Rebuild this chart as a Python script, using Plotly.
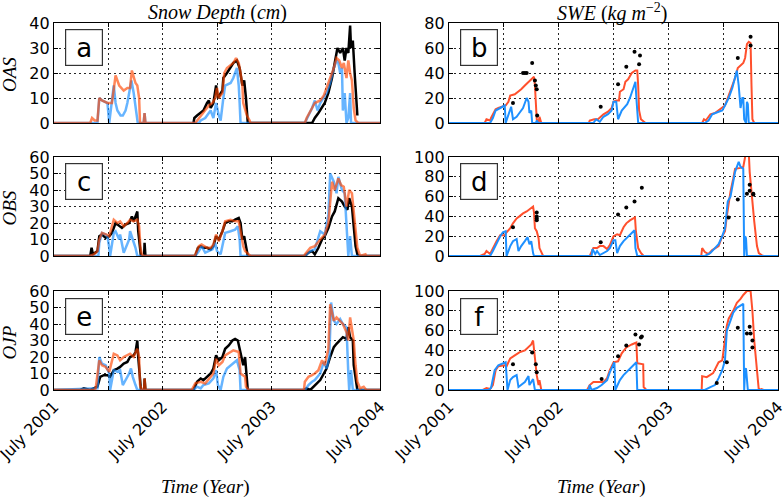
import plotly.graph_objects as go
from plotly.subplots import make_subplots

# x values: months after 1 July 2001
# ---------------- OAS snow depth (cm) ----------------
oas_depth_obs_m = [15.4, 15.5, 15.8, 16.2, 16.5, 16.9, 17.1, 17.3, 17.6, 17.9, 18.1, 18.6, 18.7, 19.1, 19.5, 19.8, 20.2, 20.5, 20.8, 21.0, 21.2, 21.4,
                   28.5, 28.8, 29.2, 29.6, 29.9, 30.3, 30.7, 31.0, 31.3, 31.6, 31.9, 32.1, 32.3, 32.5, 32.7, 32.8, 33.0, 33.2, 33.4, 33.5]
oas_depth_obs_v = [0, 2, 3, 4, 5, 8, 9, 6, 8, 15, 10, 13, 18, 20, 22, 24, 25, 22, 15, 17, 10, 0,
                   0, 2, 4, 6, 8, 12, 18, 24, 30, 28, 30, 25, 30, 28, 39, 30, 33, 20, 8, 3]
oas_depth_mod1_m = [0, 4.0, 4.2, 4.5, 4.8, 5.0, 5.3, 5.9, 6.4, 6.8, 7.2, 7.7, 8.1, 8.4, 8.6, 8.8, 9.0, 9.2, 9.4, 9.5,
                    9.9, 10.0, 10.1, 15.6, 15.8, 16.2, 16.7, 17.1, 17.5, 17.8, 18.0, 18.2, 18.6, 18.8, 19.1, 19.5, 19.8, 20.1, 20.4, 20.6,
                    20.8, 20.9, 21.3, 21.6, 21.7, 27.7, 27.9, 28.5, 28.8, 29.4, 29.8, 30.1, 30.5, 30.9, 31.2, 31.5, 31.8, 32.0, 32.3, 32.5,
                    32.7, 32.9, 33.1, 33.3, 33.6, 36]
oas_depth_mod1_v = [0, 0, 2, 1, 1, 10, 9, 8, 8, 19, 15, 13, 14, 14, 21, 18, 16, 15, 10, 0,
                    0, 4, 0, 0, 1, 3, 5, 7, 8, 10, 14, 10, 12, 20, 22, 23, 24, 26, 24, 20,
                    15, 8, 3, 1, 0, 0, 2, 6, 8, 9, 11, 14, 18, 22, 26, 25, 22, 24, 18, 25,
                    20, 17, 6, 1, 0, 0]
oas_depth_mod2_m = [0, 4.8, 5.0, 5.3, 5.9, 6.1, 6.6, 6.8, 7.0, 7.35, 7.6, 7.9, 8.1, 8.4, 8.55, 8.8, 9.1, 9.25, 9.9, 10.0,
                    10.1, 16.0, 16.2, 16.7, 17.1, 17.3, 17.6, 17.9, 18.2, 18.4, 18.7, 18.9, 19.5, 19.8, 20.2, 20.4, 20.5, 20.6, 27.7, 28.1,
                    28.5, 28.8, 29.1, 29.4, 29.8, 30.1, 30.5, 30.9, 31.2, 31.4, 31.6, 31.8, 31.9, 32.1, 32.3, 32.5, 32.7, 32.8, 36]
oas_depth_mod2_v = [0, 0, 10, 9, 8, 0, 15, 8, 5, 3, 3, 5, 8, 15, 17, 12, 5, 0, 0, 4,
                    0, 0, 1, 2, 4, 5, 2, 8, 3, 1, 10, 15, 16, 18, 22, 15, 8, 0, 0, 3,
                    6, 9, 5, 8, 10, 12, 16, 22, 25, 24, 20, 22, 5, 12, 0, 2, 12, 0, 0]

# ---------------- OAS SWE (kg m-2) ----------------
oas_swe_mod1_m = [0, 3.9, 4.1, 4.5, 4.6, 4.8, 5.1, 5.4, 5.9, 6.2, 6.5, 6.7, 7.2, 7.6, 7.9, 8.3, 8.7, 9.0, 9.3, 9.4,
                  9.5, 9.6, 9.8, 9.9, 10.1, 15.3, 15.4, 15.9, 16.3, 16.9, 17.4, 17.8, 18.0, 18.3, 18.6, 18.7, 19.1, 19.3, 19.6, 20.0,
                  20.4, 20.6, 20.7, 20.8, 21.0, 21.3, 21.5, 27.7, 27.9, 28.1, 28.6, 29.1, 29.5, 29.9, 30.2, 30.6, 31.0, 31.3, 31.6, 31.9,
                  32.2, 32.4, 32.6, 32.8, 33.0, 33.1, 33.2, 33.4, 36]
oas_swe_mod1_v = [0, 0, 3, 2, 4, 7, 11, 12, 13, 14, 17, 22, 23, 25, 27, 30, 33, 35, 37, 30,
                  10, 3, 0, 5, 0, 0, 2, 3, 3, 7, 9, 12, 17, 18, 18, 25, 27, 33, 35, 40,
                  42, 42, 30, 10, 3, 1, 0, 0, 3, 2, 7, 8, 10, 12, 14, 22, 30, 36, 44, 46,
                  48, 52, 63, 65, 64, 30, 3, 0, 0]
oas_swe_mod2_m = [0, 4.5, 4.8, 5.1, 5.6, 6.1, 6.2, 6.7, 6.8, 7.0, 7.4, 7.7, 8.1, 8.5, 8.7, 8.8, 9.0, 9.1, 9.5, 9.6,
                  9.8, 15.7, 15.8, 16.1, 16.5, 16.9, 17.4, 17.8, 18.0, 18.3, 18.5, 18.9, 19.5, 19.8, 20.2, 20.4, 20.5, 20.6, 20.7, 27.9,
                  28.0, 28.4, 28.8, 29.5, 29.9, 30.2, 30.6, 31.0, 31.3, 31.5, 31.7, 31.9, 32.1, 32.2, 32.3, 32.5, 32.6, 32.7, 32.8, 36]
oas_swe_mod2_v = [0, 0, 4, 10, 12, 14, 0, 12, 13, 3, 5, 8, 12, 20, 17, 8, 10, 0, 0, 2,
                  0, 0, 0, 3, 1, 5, 7, 10, 17, 17, 3, 10, 15, 20, 30, 33, 20, 5, 0, 0,
                  0, 2, 7, 9, 10, 14, 20, 28, 36, 42, 30, 12, 20, 20, 3, 0, 17, 15, 0, 0]
oas_swe_obs_m = [7.0, 8.1, 8.3, 8.5, 9.1, 9.4, 9.5, 9.6, 9.65, 16.6, 18.5, 19.4, 20.3, 20.9, 20.8, 31.6, 33.0, 33.0]
oas_swe_obs_v = [16, 40, 40, 40, 48, 34, 30, 27, 6, 13, 31, 45, 57, 54, 47, 52, 69, 62]

# ---------------- OBS snow depth ----------------
obs_depth_obs_m = [0, 4.0, 4.15, 4.3, 4.8, 5.0, 5.3, 5.7, 6.1, 6.4, 6.8, 7.2, 7.5, 7.9, 8.3, 8.6, 8.8, 9.2, 9.3, 9.5,
                   9.6, 9.95, 10.0, 10.1, 15.6, 15.9, 16.2, 16.5, 16.9, 17.3, 17.6, 17.9, 18.2, 18.6, 18.9, 19.3, 19.7, 20.0, 20.4, 20.6,
                   20.8, 21.0, 21.2, 21.4, 27.7, 28.1, 28.5, 28.8, 29.2, 29.6, 29.9, 30.3, 30.7, 31.0, 31.4, 31.8, 32.1, 32.4, 32.6, 32.9,
                   33.1, 33.3, 33.5, 33.7, 36]
obs_depth_obs_v = [0, 0, 5, 1, 3, 12, 13, 11, 12, 14, 20, 18, 17, 19, 20, 24, 21, 27, 15, 5,
                   0, 0, 8, 0, 0, 5, 6, 5, 5, 4, 6, 12, 10, 15, 20, 21, 21, 22, 23, 20,
                   10, 12, 5, 0, 0, 2, 3, 1, 5, 10, 12, 17, 24, 27, 35, 33, 30, 28, 35, 30,
                   18, 6, 1, 0, 0]
obs_depth_mod1_m = [0, 3.9, 4.4, 4.8, 5.0, 5.3, 5.8, 6.1, 6.6, 7.0, 7.3, 7.7, 8.1, 8.4, 8.8, 9.2, 9.4, 9.55, 9.7, 9.9,
                    15.5, 15.6, 16.0, 16.3, 16.9, 17.3, 17.6, 17.9, 18.2, 18.6, 18.9, 19.5, 20.0, 20.4, 20.6, 20.9, 21.1, 21.5, 21.7, 27.6,
                    27.7, 28.3, 28.8, 29.4, 29.9, 30.3, 30.5, 30.7, 31.0, 31.4, 31.7, 32.0, 32.3, 32.6, 32.9, 33.2, 33.5, 33.8, 34.4, 34.5,
                    36]
obs_depth_mod1_v = [0, 0, 1, 3, 10, 14, 13, 12, 22, 20, 21, 18, 20, 22, 21, 22, 18, 5, 1, 0,
                    0, 1, 6, 7, 5, 5, 7, 13, 9, 15, 21, 22, 21, 21, 15, 6, 3, 1, 0, 0,
                    1, 5, 6, 10, 13, 20, 35, 45, 40, 47, 43, 42, 30, 40, 38, 20, 5, 0, 1, 0,
                    0]
obs_depth_mod2_m = [0, 4.9, 5.0, 5.3, 5.7, 5.9, 6.1, 6.2, 6.6, 6.8, 7.2, 7.3, 7.7, 7.9, 8.3, 8.4, 8.7, 9.0, 9.2, 15.6,
                    16.0, 16.3, 16.7, 17.1, 17.5, 17.8, 18.0, 18.4, 18.7, 18.9, 19.5, 20.0, 20.3, 20.5, 20.6, 27.7, 28.3, 28.8, 29.4, 29.9,
                    30.3, 30.5, 30.9, 31.2, 31.4, 31.8, 32.1, 32.3, 32.5, 32.7, 32.9, 36]
obs_depth_mod2_v = [0, 0, 8, 14, 13, 12, 5, 0, 14, 15, 10, 13, 2, 5, 10, 15, 10, 5, 0, 0,
                    3, 6, 2, 3, 4, 8, 3, 1, 10, 14, 15, 16, 18, 10, 0, 0, 3, 4, 15, 13,
                    25, 50, 45, 38, 48, 40, 38, 15, 0, 12, 0, 0]

# ---------------- OBS SWE ----------------
obs_swe_mod1_m = [0, 3.4, 3.9, 4.1, 4.5, 4.8, 5.2, 5.6, 6.1, 6.3, 6.7, 7.0, 7.4, 7.7, 8.1, 8.5, 8.8, 9.2, 9.3, 9.4,
                  9.6, 9.8, 9.9, 10.1, 10.3, 15.4, 15.8, 16.2, 16.5, 16.9, 17.3, 17.6, 18.0, 18.4, 18.7, 19.1, 19.4, 19.8, 20.35, 20.45,
                  20.7, 21.0, 21.3, 27.6, 27.7, 28.0, 28.4, 28.8, 29.1, 29.5, 29.9, 30.2, 30.4, 30.6, 30.8, 31.1, 31.3, 31.9, 32.2, 32.4,
                  32.8, 32.9, 33.2, 33.4, 33.7, 33.9, 34.2, 34.4, 36]
obs_swe_mod1_v = [0, 0, 2, 5, 2, 8, 15, 21, 21, 24, 28, 33, 38, 40, 43, 45, 47, 50, 44, 28,
                  25, 18, 8, 3, 0, 0, 8, 8, 10, 10, 7, 11, 20, 22, 21, 29, 33, 36, 39, 25,
                  8, 3, 0, 0, 8, 4, 2, 6, 8, 10, 20, 25, 40, 55, 65, 78, 88, 89, 90, 100,
                  105, 85, 50, 35, 10, 3, 1, 0, 0]
obs_swe_mod2_m = [0, 4.5, 4.8, 5.2, 5.6, 5.9, 6.2, 6.3, 6.7, 7.0, 7.4, 7.6, 7.9, 8.3, 8.6, 8.8, 9.0, 9.2, 9.3, 15.5,
                  15.6, 15.7, 16.0, 16.2, 16.5, 17.3, 17.6, 18.0, 18.2, 18.4, 18.7, 19.1, 19.4, 19.9, 20.3, 20.4, 20.6, 28.0, 28.6, 29.1,
                  29.5, 29.9, 30.2, 30.5, 30.8, 31.1, 31.3, 31.7, 31.9, 32.2, 32.3, 32.4, 32.5, 32.6, 36]
obs_swe_mod2_v = [0, 0, 5, 13, 20, 24, 25, 0, 10, 15, 17, 5, 10, 15, 19, 12, 15, 3, 0, 0,
                  0, 7, 2, 5, 1, 5, 8, 16, 16, 3, 10, 15, 18, 22, 26, 8, 0, 0, 3, 8,
                  12, 20, 28, 55, 60, 75, 85, 95, 90, 88, 0, 20, 18, 0, 0]
obs_swe_obs_m = [7.0, 9.6, 9.6, 9.6, 9.6, 16.6, 18.5, 19.4, 20.3, 21.1, 30.6, 31.6, 32.6, 32.9, 32.9, 33.3, 33.3]
obs_swe_obs_v = [29, 44, 40, 38, 36, 14, 42, 49, 55, 69, 39, 57, 63, 72, 66, 63, 62]

# ---------------- OJP snow depth ----------------
ojp_depth_obs_m = [0, 2.9, 3.3, 4.0, 4.8, 5.1, 5.5, 5.9, 6.2, 6.6, 7.0, 7.3, 7.7, 8.1, 8.4, 8.8, 9.0, 9.2, 9.3, 9.5,
                   9.6, 9.95, 10.0, 10.1, 15.4, 15.8, 16.2, 16.5, 16.9, 17.3, 17.6, 17.9, 18.2, 18.6, 18.9, 19.3, 19.7, 20.0, 20.3, 20.5,
                   20.7, 20.9, 21.1, 21.3, 21.4, 27.6, 27.9, 28.3, 28.8, 29.4, 29.8, 30.1, 30.5, 30.9, 31.2, 31.6, 31.9, 32.3, 32.5, 32.7,
                   33.0, 33.1, 33.4, 33.5, 36]
ojp_depth_obs_v = [0, 0, 1, 0, 2, 8, 9, 9, 8, 12, 13, 14, 16, 17, 20, 21, 23, 30, 20, 3,
                   0, 0, 7, 0, 0, 5, 7, 6, 8, 10, 13, 21, 18, 20, 25, 27, 30, 31, 30, 25,
                   20, 15, 20, 3, 0, 0, 1, 0, 3, 6, 10, 13, 20, 26, 28, 30, 32, 31, 38, 32,
                   30, 15, 3, 0, 0]
ojp_depth_mod1_m = [0, 4.5, 4.6, 5.0, 5.3, 5.7, 6.1, 6.6, 7.0, 7.3, 7.7, 8.1, 8.4, 8.8, 9.2, 9.4, 9.5, 9.7, 9.95, 10.0,
                    10.1, 15.1, 15.2, 15.6, 16.2, 16.7, 17.1, 17.6, 17.9, 18.2, 18.6, 18.9, 19.5, 19.8, 20.4, 20.6, 21.1, 21.2, 21.5, 27.6,
                    27.7, 28.1, 28.5, 28.8, 29.2, 29.6, 29.9, 30.3, 30.5, 30.9, 31.2, 31.6, 31.9, 32.3, 32.5, 32.7, 32.9, 33.1, 33.3, 33.5,
                    33.8, 34.2, 34.5, 36]
ojp_depth_mod1_v = [0, 0, 1, 18, 15, 14, 11, 22, 21, 18, 20, 21, 22, 20, 25, 20, 3, 0, 0, 7,
                    0, 0, 0, 4, 5, 4, 7, 10, 19, 15, 17, 21, 23, 24, 23, 10, 8, 2, 0, 0,
                    5, 8, 9, 10, 12, 18, 15, 25, 52, 42, 44, 42, 40, 35, 30, 44, 38, 30, 15, 5,
                    1, 2, 0, 0]
ojp_depth_mod2_m = [0, 4.8, 5.0, 5.3, 5.7, 6.1, 6.2, 6.6, 7.0, 7.3, 7.6, 7.9, 8.3, 8.5, 8.7, 9.0, 9.2, 15.4, 15.8, 16.2,
                    16.5, 17.1, 17.6, 17.9, 18.1, 18.4, 18.7, 19.1, 19.7, 20.2, 20.5, 20.6, 27.7, 28.1, 28.5, 28.8, 29.4, 29.8, 30.1, 30.4,
                    30.6, 30.9, 31.2, 31.6, 31.9, 32.3, 32.5, 32.6, 32.8, 33.0, 36]
ojp_depth_mod2_v = [0, 1, 20, 16, 15, 10, 0, 12, 11, 12, 3, 6, 10, 13, 8, 3, 0, 0, 2, 1,
                    3, 4, 7, 12, 3, 0, 8, 13, 16, 18, 12, 0, 0, 3, 5, 6, 10, 17, 13, 20,
                    53, 42, 40, 43, 40, 38, 10, 0, 12, 0, 0]

# ---------------- OJP SWE ----------------
ojp_swe_mod1_m = [0, 3.7, 4.1, 4.5, 4.8, 5.1, 5.4, 6.1, 6.3, 6.5, 6.7, 7.2, 7.7, 8.3, 8.7, 9.0, 9.2, 9.4, 9.6, 9.8,
                  9.9, 10.1, 15.1, 15.4, 15.8, 16.3, 16.9, 17.3, 17.6, 18.0, 18.5, 18.9, 19.4, 20.0, 20.5, 20.6, 21.25, 21.3, 21.6, 27.65,
                  27.7, 28.2, 28.6, 28.9, 29.5, 29.9, 30.4, 30.6, 31.1, 31.5, 31.9, 32.2, 32.6, 33.0, 33.2, 33.4, 33.8, 33.9, 34.2, 34.4,
                  36]
ojp_swe_mod1_v = [0, 0, 2, 1, 5, 20, 24, 25, 24, 28, 32, 35, 38, 40, 43, 46, 50, 30, 15, 5,
                  10, 0, 0, 5, 8, 8, 8, 12, 20, 28, 29, 37, 43, 46, 48, 27, 26, 3, 0, 0,
                  14, 13, 15, 17, 28, 30, 65, 72, 80, 88, 92, 96, 100, 100, 80, 50, 10, 0, 1, 0,
                  0]
ojp_swe_mod2_m = [0, 4.3, 4.6, 5.0, 5.4, 5.9, 6.2, 6.4, 6.7, 7.0, 7.4, 7.6, 7.9, 8.3, 8.7, 8.8, 9.2, 9.4, 15.3, 15.4,
                  15.6, 16.2, 16.7, 17.3, 17.6, 18.1, 18.2, 18.7, 19.1, 19.6, 20.2, 20.5, 20.6, 28.0, 28.6, 29.1, 29.5, 29.9, 30.2, 30.4,
                  30.8, 31.1, 31.5, 31.9, 32.2, 32.3, 32.4, 32.5, 32.7, 36]
ojp_swe_mod2_v = [0, 0, 2, 20, 25, 27, 28, 0, 10, 13, 15, 3, 5, 8, 14, 5, 11, 0, 0, 5,
                  0, 2, 5, 10, 18, 28, 0, 10, 15, 20, 25, 28, 0, 0, 3, 5, 12, 20, 30, 60,
                  70, 78, 83, 85, 87, 0, 20, 22, 0, 0]
ojp_swe_obs_m = [7.0, 9.1, 9.5, 9.6, 16.7, 18.5, 19.4, 20.4, 20.8, 21.0, 21.1, 29.3, 30.4, 31.6, 32.6, 32.9, 33.0, 33.2, 33.2]
ojp_swe_obs_v = [26, 38, 26, 18, 11, 34, 45, 56, 46, 53, 54, 7, 28, 63, 57, 64, 57, 50, 43]

# ---------------- axes / labels ----------------
time_tick_months = [0, 6, 12, 18, 24, 30, 36]
time_tick_labels = ["July 2001", "", "July 2002", "", "July 2003", "", "July 2004"]
site_names = ["OAS", "OBS", "OJP"]
panel_letters = ["a", "b", "c", "d", "e", "f"]
depth_ranges = [40, 60, 60]
swe_ranges = [80, 100, 100]
depth_dticks = [10, 10, 10]
swe_dticks = [20, 20, 20]

for xs, ys in [(oas_depth_obs_m, oas_depth_obs_v), (oas_depth_mod1_m, oas_depth_mod1_v), (oas_depth_mod2_m, oas_depth_mod2_v),
               (oas_swe_mod1_m, oas_swe_mod1_v), (oas_swe_mod2_m, oas_swe_mod2_v), (oas_swe_obs_m, oas_swe_obs_v),
               (obs_depth_obs_m, obs_depth_obs_v), (obs_depth_mod1_m, obs_depth_mod1_v), (obs_depth_mod2_m, obs_depth_mod2_v),
               (obs_swe_mod1_m, obs_swe_mod1_v), (obs_swe_mod2_m, obs_swe_mod2_v), (obs_swe_obs_m, obs_swe_obs_v),
               (ojp_depth_obs_m, ojp_depth_obs_v), (ojp_depth_mod1_m, ojp_depth_mod1_v), (ojp_depth_mod2_m, ojp_depth_mod2_v),
               (ojp_swe_mod1_m, ojp_swe_mod1_v), (ojp_swe_mod2_m, ojp_swe_mod2_v), (ojp_swe_obs_m, ojp_swe_obs_v)]:
    assert len(xs) == len(ys), (len(xs), len(ys))

depth_sets = [
    (oas_depth_obs_m, oas_depth_obs_v, oas_depth_mod2_m, oas_depth_mod2_v, oas_depth_mod1_m, oas_depth_mod1_v),
    (obs_depth_obs_m, obs_depth_obs_v, obs_depth_mod2_m, obs_depth_mod2_v, obs_depth_mod1_m, obs_depth_mod1_v),
    (ojp_depth_obs_m, ojp_depth_obs_v, ojp_depth_mod2_m, ojp_depth_mod2_v, ojp_depth_mod1_m, ojp_depth_mod1_v),
]
swe_sets = [
    (oas_swe_mod1_m, oas_swe_mod1_v, oas_swe_mod2_m, oas_swe_mod2_v, oas_swe_obs_m, oas_swe_obs_v),
    (obs_swe_mod1_m, obs_swe_mod1_v, obs_swe_mod2_m, obs_swe_mod2_v, obs_swe_obs_m, obs_swe_obs_v),
    (ojp_swe_mod1_m, ojp_swe_mod1_v, ojp_swe_mod2_m, ojp_swe_mod2_v, ojp_swe_obs_m, ojp_swe_obs_v),
]

W, H = 783, 497
fig = make_subplots(rows=3, cols=2)

BLACK = "black"
BLUE_L = "rgba(30,144,255,0.68)"
ORANGE_L = "rgba(255,69,0,0.65)"
BLUE_R = "rgb(30,144,255)"
ORANGE_R = "rgb(255,80,45)"

for r in range(3):
    ob_m, ob_v, m2_m, m2_v, m1_m, m1_v = depth_sets[r]
    fig.add_trace(go.Scatter(x=ob_m, y=ob_v, mode="lines", line=dict(color=BLACK, width=2.5), showlegend=False), row=r + 1, col=1)
    fig.add_trace(go.Scatter(x=m2_m, y=m2_v, mode="lines", line=dict(color=BLUE_L, width=2.5), showlegend=False), row=r + 1, col=1)
    fig.add_trace(go.Scatter(x=m1_m, y=m1_v, mode="lines", line=dict(color=ORANGE_L, width=2.5), showlegend=False), row=r + 1, col=1)
    s1_m, s1_v, s2_m, s2_v, so_m, so_v = swe_sets[r]
    fig.add_trace(go.Scatter(x=s1_m, y=s1_v, mode="lines", line=dict(color=ORANGE_R, width=2), showlegend=False), row=r + 1, col=2)
    fig.add_trace(go.Scatter(x=s2_m, y=s2_v, mode="lines", line=dict(color=BLUE_R, width=2), showlegend=False), row=r + 1, col=2)
    fig.add_trace(go.Scatter(x=so_m, y=so_v, mode="markers", marker=dict(color=BLACK, size=4), showlegend=False), row=r + 1, col=2)

col_px = [(54, 380), (449, 778)]
row_px = [(23, 123), (157, 256), (291, 390)]
tickfont = dict(family="DejaVu Sans", size=16, color="black")
axis_common = dict(showline=True, mirror="ticks", linecolor="black", linewidth=1.3,
                   ticks="inside", ticklen=4, tickcolor="black", tickwidth=1,
                   showgrid=True, gridcolor="rgba(0,0,0,0.85)", gridwidth=0.8, griddash="2px,3px",
                   zeroline=False, tickfont=tickfont, automargin=False, ticklabeloverflow="allow")

for r in range(3):
    for c in range(2):
        idx = r * 2 + c + 1
        xs = "xaxis" if idx == 1 else f"xaxis{idx}"
        ys = "yaxis" if idx == 1 else f"yaxis{idx}"
        x0, x1 = col_px[c]
        y0, y1 = row_px[r]
        ymax = depth_ranges[r] if c == 0 else swe_ranges[r]
        dt = depth_dticks[r] if c == 0 else swe_dticks[r]
        fig.update_layout({
            xs: dict(domain=[x0 / W, x1 / W], range=[0, 36], tickmode="array",
                     tickvals=time_tick_months, ticktext=time_tick_labels,
                     showticklabels=(r == 2), tickangle=-45, **axis_common),
            ys: dict(domain=[1 - y1 / H, 1 - y0 / H], range=[0, ymax], tickmode="linear",
                     tick0=0, dtick=dt, **axis_common),
        })
        # panel letter box
        fig.add_annotation(x=(x0 + 29.5) / W, y=1 - (y0 + 25) / H, xref="paper", yref="paper",
                           text=panel_letters[idx - 1], showarrow=False,
                           font=dict(family="DejaVu Sans", size=26, color="black"),
                           bgcolor="white", bordercolor="#333333", borderwidth=1.2,
                           width=34, height=33, borderpad=1, xanchor="center", yanchor="middle")

serif = dict(family="Liberation Serif", size=19, color="black")
serif_title = dict(family="Liberation Serif", size=20, color="black")
# column titles
fig.add_annotation(x=217 / W, y=1 - 12 / H, xref="paper", yref="paper", showarrow=False,
                   text="<i>Snow Depth</i> (<i>cm</i>)", font=serif_title, xanchor="center", yanchor="middle")
fig.add_annotation(x=612 / W, y=1 - 12 / H, xref="paper", yref="paper", showarrow=False,
                   text="<i>SWE</i> (<i>kg m</i><sup>−2</sup>)", font=serif_title, xanchor="center", yanchor="middle")
# row labels
for r in range(3):
    y0, y1 = row_px[r]
    fig.add_annotation(x=9 / W, y=1 - ((y0 + y1) / 2 + 2) / H, xref="paper", yref="paper", showarrow=False,
                       text=f"<i>{site_names[r]}</i>", font=serif, textangle=-90,
                       xanchor="center", yanchor="middle")
# x titles
for cx in (205, 601):
    fig.add_annotation(x=cx / W, y=1 - 487 / H, xref="paper", yref="paper", showarrow=False,
                       text="<i>Time</i> (<i>Year</i>)", font=serif, xanchor="center", yanchor="middle")

fig.update_layout(width=W, height=H, margin=dict(l=0, r=0, t=0, b=0),
                  paper_bgcolor="white", plot_bgcolor="white")
fig.write_html("out.html", config={"displayModeBar": False},
               post_script="document.body.style.margin='0';document.body.style.padding='0';document.body.style.overflow='hidden';")
